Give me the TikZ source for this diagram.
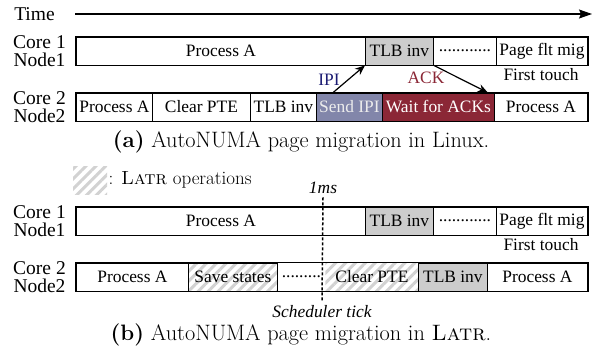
\documentclass[tikz,border=0pt]{standalone}
\usepackage{fontspec}
\newfontfamily\timesfont{Liberation Serif}
\usetikzlibrary{arrows.meta,patterns.meta}

\definecolor{ipifill}{RGB}{130,134,170}
\definecolor{ackfill}{RGB}{139,39,54}
\definecolor{ipitext}{RGB}{28,28,115}
\definecolor{hatchgray}{RGB}{210,210,210}

\begin{document}
\begin{tikzpicture}[x=1pt,y=-1pt]
\tikzstyle{seg} = [rectangle, draw, line width=0.8pt, minimum height=28pt,
inner sep=0pt, anchor=west, font=\timesfont\fontsize{17.4}{20}\selectfont]
\tikzstyle{tlb} = [seg, fill=gray!40]
\tikzstyle{hatch} = [pattern={Lines[angle=45,distance=7pt,line width=3pt]}, pattern color=hatchgray]
\tikzstyle{frame} = [draw, line width=1.6pt]
\tikzstyle{corelabel} = [align=center, font=\timesfont\fontsize{19.5}{18}\selectfont]
\tikzstyle{note} = [font=\timesfont\fontsize{17.4}{20}\selectfont]
\tikzstyle{msg} = [draw, line width=1.2pt, -{Stealth[length=10pt,width=8pt]}]
\tikzstyle{tickline} = [draw, line width=1.5pt, dash pattern=on 3pt off 2pt]
\tikzstyle{caption} = [font=\fontsize{22.3}{25}\selectfont]

\useasboundingbox (0,0) rectangle (593,351);

% time axis
\node[corelabel] (time) at (34.5,14) {Time};
\coordinate (tstart) at (75,14);
\coordinate (tend) at (592,14);
\draw[line width=1.2pt, -{Stealth[length=13pt,width=9pt,inset=2pt]}] (tstart) -- (tend);

% (a) row 1
\node[corelabel] (acore1) at (39.5,51) {Core 1\\Node1};
\node[seg, minimum width=289pt] (aproc1) at (76,51) {Process A};
\node[tlb, minimum width=68pt] (atlb1) at (365,51) {TLB inv};
\node[seg, minimum width=63pt] (adots1) at (433,51) {............};
\node[seg, minimum width=91pt] (apage1) at (496,51) {Page flt mig};
\draw[frame] (aproc1.north west) rectangle (apage1.south east);
\node[note] (atouch) at (541,75) {First touch};

% (a) row 2
\node[corelabel] (acore2) at (39.5,107) {Core 2\\Node2};
\node[seg, minimum width=76pt] (aproc2) at (76,107) {Process A};
\node[seg, minimum width=98pt] (aclear) at (152,107) {Clear PTE};
\node[seg, minimum width=66pt] (atlb2) at (250,107) {TLB inv};
\node[seg, fill=ipifill, text=gray!15, minimum width=66pt] (asend) at (316,107) {Send IPI};
\node[seg, fill=ackfill, text=white, minimum width=112pt] (await) at (382,107) {Wait for ACKs};
\node[seg, minimum width=93pt] (aproc3) at (494,107) {Process A};
\draw[frame] (aproc2.north west) rectangle (aproc3.south east);

\draw[msg] ([xshift=17pt]asend.north west) -- (atlb1.south west);
\draw[msg] (atlb1.south east) -- ([xshift=-7pt]await.north east);
\node[note, text=ipitext] (ipi) at (329,80) {IPI};
\node[note, text=ackfill] (ack) at (426,78) {ACK};

\node[caption] (capa) at (301,142) {\textbf{(a)} AutoNUMA page migration in Linux.};

% legend
\node[hatch, minimum width=34pt, minimum height=28pt, inner sep=0pt] (legend) at (90,180) {};
\node[anchor=west, inner sep=0pt, font=\fontsize{19}{22}\selectfont] (legtext) at (legend.east) {: \textsc{Latr} operations};
\node[note, font=\timesfont\itshape\fontsize{17.4}{20}\selectfont] (onems) at (323,188) {1ms};

% (b) row 1
\node[corelabel] (bcore1) at (39.5,221) {Core 1\\Node1};
\node[seg, minimum width=289pt] (bproc1) at (76,221) {Process A};
\node[tlb, minimum width=68pt] (btlb1) at (365,221) {TLB inv};
\node[seg, minimum width=63pt] (bdots1) at (433,221) {............};
\node[seg, minimum width=91pt] (bpage1) at (496,221) {Page flt mig};
\draw[frame] (bproc1.north west) rectangle (bpage1.south east);
\node[note] (btouch) at (541,245) {First touch};

% (b) row 2
\node[corelabel] (bcore2) at (39.5,277) {Core 2\\Node2};
\node[seg, minimum width=112pt] (bproc2) at (76,277) {Process A};
\node[seg, hatch, minimum width=89pt] (bsave) at (188,277) {Save states};
\node[seg, draw=none, minimum width=48pt] (bdots2) at (277,277) {.........};
\node[seg, draw=none, hatch, minimum width=93pt] (bclear) at (325,277) {Clear PTE};
\node[tlb, minimum width=69pt] (btlb2) at (418,277) {TLB inv};
\node[seg, minimum width=100pt] (bproc3) at (487,277) {Process A};
\draw[frame] (bproc2.north west) rectangle (bproc3.south east);

\node[note, font=\timesfont\itshape\fontsize{17.4}{20}\selectfont] (sched) at (322,312) {Scheduler tick};
\draw[tickline] (onems.south) -- (sched.north);

\node[caption] (capb) at (301,335) {\textbf{(b)} AutoNUMA page migration in \textsc{Latr}.};

\end{tikzpicture}
\end{document}
